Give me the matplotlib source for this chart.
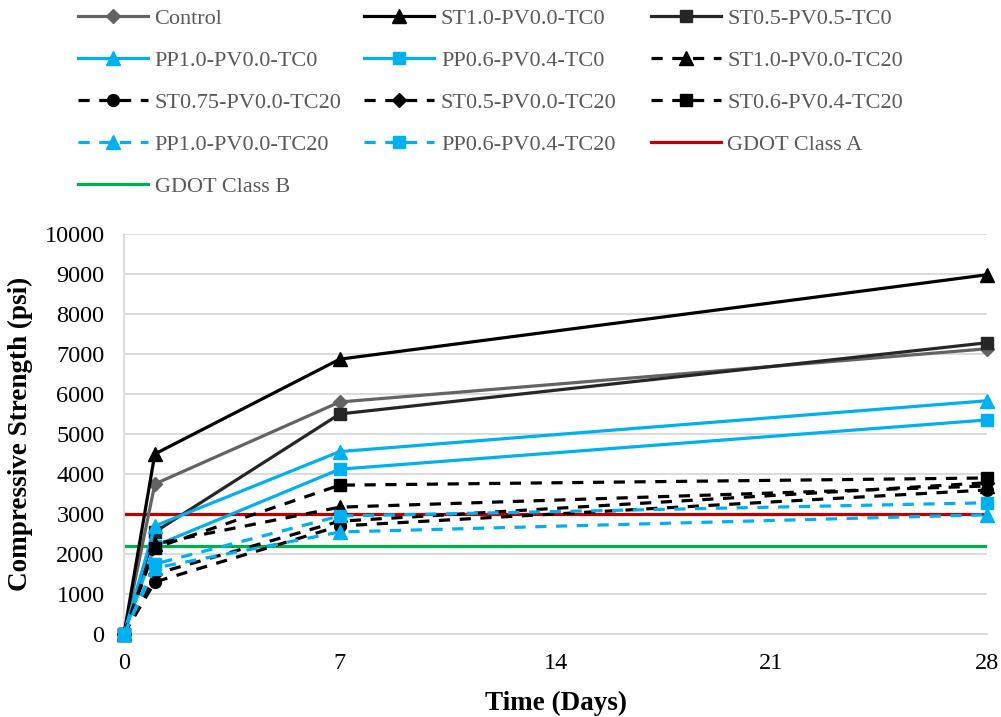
import matplotlib
matplotlib.use("Agg")
import matplotlib.pyplot as plt

plt.rcParams['font.family'] = ['Liberation Serif', 'DejaVu Serif']

days = [0, 1, 7, 28]

control = [0, 3750, 5800, 7130]
st10_tc0 = [0, 4500, 6870, 8980]
st05_pv05_tc0 = [0, 2550, 5500, 7280]
pp10_tc0 = [0, 2700, 4560, 5830]
pp06_pv04_tc0 = [0, 2200, 4120, 5350]
st10_tc20 = [0, 2250, 3170, 3700]
st075_tc20 = [0, 1300, 2700, 3600]
st05_tc20 = [0, 1500, 2820, 3780]
st06_pv04_tc20 = [0, 2150, 3720, 3900]
pp10_tc20 = [0, 1650, 2550, 2980]
pp06_pv04_tc20 = [0, 1750, 2950, 3280]

gdot_a = 3000
gdot_b = 2200

gray = '#636363'
dark = '#262626'
blue = '#00B0F0'
red = '#C00000'
green = '#00B050'

fig = plt.figure(figsize=(10.01, 7.17), dpi=100)
ax = fig.add_axes([0.1239, 0.1158, 0.8621, 0.5579])

lw = 2.3
dash = (0, (3.5, 3.0))
series = [
    ('Control', control, gray, '-', 'D', 7),
    ('ST1.0-PV0.0-TC0', st10_tc0, 'black', '-', '^', 9.5),
    ('ST0.5-PV0.5-TC0', st05_pv05_tc0, dark, '-', 's', 8.5),
    ('PP1.0-PV0.0-TC0', pp10_tc0, blue, '-', '^', 9.5),
    ('PP0.6-PV0.4-TC0', pp06_pv04_tc0, blue, '-', 's', 8.5),
    ('ST1.0-PV0.0-TC20', st10_tc20, 'black', dash, '^', 9.5),
    ('ST0.75-PV0.0-TC20', st075_tc20, 'black', dash, 'o', 8.5),
    ('ST0.5-PV0.0-TC20', st05_tc20, 'black', dash, 'D', 7),
    ('ST0.6-PV0.4-TC20', st06_pv04_tc20, 'black', dash, 's', 8.5),
    ('PP1.0-PV0.0-TC20', pp10_tc20, blue, dash, '^', 9.5),
    ('PP0.6-PV0.4-TC20', pp06_pv04_tc20, blue, dash, 's', 8.5),
]

handles = []
for name, vals, color, ls, mk, ms in series:
    h, = ax.plot(days, vals, color=color, linestyle=ls, linewidth=lw,
                 marker=mk, markersize=ms, markerfacecolor=color,
                 markeredgecolor=color, label=name, zorder=3, clip_on=False)
    handles.append(h)

ha, = ax.plot([0, 28], [gdot_a, gdot_a], color=red, linewidth=lw,
              label='GDOT Class A', zorder=2.5)
hb, = ax.plot([0, 28], [gdot_b, gdot_b], color=green, linewidth=lw,
              label='GDOT Class B', zorder=2.5)
handles += [ha, hb]

ax.set_xlim(0, 28)
ax.set_ylim(0, 10000)
ax.set_xticks([0, 7, 14, 21, 28])
ax.set_yticks(range(0, 10001, 1000))
ax.tick_params(axis='y', length=0, labelsize=17.5, pad=14, labelcolor='black')
ax.tick_params(axis='x', length=0, labelsize=17.5, pad=14, labelcolor='black')
ax.grid(axis='y', color='#d9d9d9', linewidth=1.3, zorder=0)
ax.set_axisbelow(True)
for s in ['top', 'right']:
    ax.spines[s].set_visible(False)
for s in ['left', 'bottom']:
    ax.spines[s].set_color('#d9d9d9')
    ax.spines[s].set_linewidth(1.3)

ax.set_xlabel('Time (Days)', fontsize=19.5, fontweight='bold', labelpad=12)
ax.set_ylabel('Compressive Strength (psi)', fontsize=19.5, fontweight='bold', labelpad=8)

# Legend laid out row by row in three equal-width columns
col_x = [0.069, 0.355, 0.641]
for c in range(3):
    col_handles = handles[c::3]
    fig.legend(handles=col_handles, loc='upper left',
               bbox_to_anchor=(col_x[c], 1.0005), frameon=False,
               fontsize=16, handlelength=3.15, handletextpad=0.3,
               labelspacing=0.96, borderaxespad=0, borderpad=0.4,
               labelcolor='#595959')

fig.savefig('out.png', dpi=100)
